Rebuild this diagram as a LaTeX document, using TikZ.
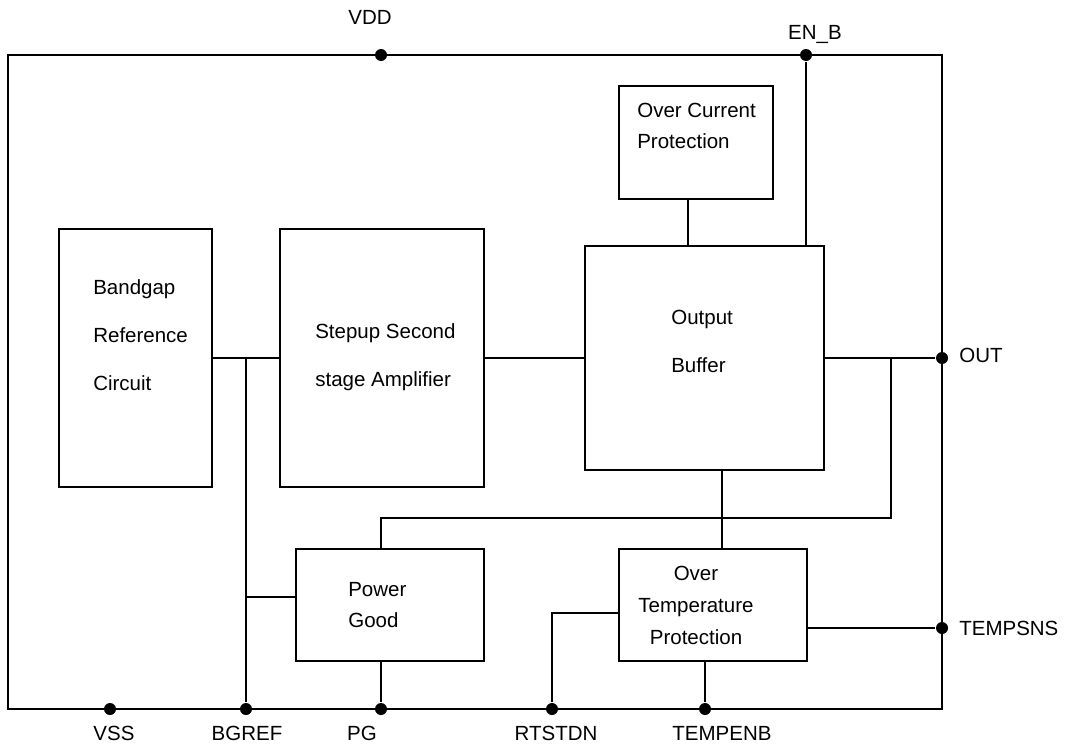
\documentclass[tikz,border=0pt]{standalone}
\usepackage{fontspec}
\setmainfont{Liberation Sans}
\begin{document}
\begin{tikzpicture}[x=1pt,y=-1pt,line width=2.6pt,
  blk/.style={draw, rectangle, inner sep=0pt, outer sep=0pt},
  txt/.style={font=\fontsize{20.5}{24}\selectfont, inner sep=0pt},
  pin/.style={circle, fill, inner sep=0pt, minimum size=12pt}]
\useasboundingbox (0,0) rectangle (1070,747);
% frame
\draw (8,55) rectangle (942,709);
% blocks
\node[blk, minimum width=153pt, minimum height=258pt] (bg)  at (135.5,358) {};
\node[blk, minimum width=204pt, minimum height=258pt] (st)  at (382,358) {};
\node[blk, minimum width=154pt, minimum height=113pt] (ocp) at (696,142.5) {};
\node[blk, minimum width=239pt, minimum height=224pt] (buf) at (704.5,358) {};
\node[blk, minimum width=188pt, minimum height=112pt] (pg)  at (390,605) {};
\node[blk, minimum width=188pt, minimum height=112pt] (otp) at (713,605) {};
% block texts
\node[txt, align=left, anchor=west, font=\fontsize{20.5}{48}\selectfont] (tbg) at (92,335) {Bandgap\\Reference\\Circuit};
\node[txt, align=left, anchor=west, font=\fontsize{20.5}{48}\selectfont] (tst) at (314,357) {Stepup Second\\stage Amplifier};
\node[txt, align=left, anchor=west, font=\fontsize{20.5}{31}\selectfont] (tocp) at (636,126) {Over Current\\Protection};
\node[txt, align=left, anchor=west, font=\fontsize{20.5}{48}\selectfont] (tbuf) at (670,341) {Output\\Buffer};
\node[txt, align=left, anchor=west, font=\fontsize{20.5}{31}\selectfont] (tpg) at (347,605) {Power\\Good};
\node[txt, align=center, font=\fontsize{20.5}{32}\selectfont] (totp) at (696,605) {Over\\Temperature\\Protection};
% pins
\node[pin] (vdd)  at (381,55) {};
\node[pin] (enb)  at (806,55) {};
\node[pin] (out)  at (942,358) {};
\node[pin] (tsns) at (942,628) {};
\node[pin] (vss)  at (110,709) {};
\node[pin] (bgr)  at (246,709) {};
\node[pin] (pgp)  at (381,709) {};
\node[pin] (rts)  at (552,709) {};
\node[pin] (tenb) at (705,709) {};
% connectors
\draw (enb) -- (enb |- buf.north);
\draw ([xshift=-8pt]ocp.south) -- ([xshift=-8pt]ocp.south |- buf.north);
\draw (bg.east) -- (st.west);
\draw (bgr) -- (bgr |- bg.east);
\draw ([yshift=8pt]pg.west) -- ([yshift=8pt]pg.west -| bgr);
\draw (st.east) -- (buf.west);
\draw (buf.east) -- (out);
\coordinate (tap) at (891,358);
\coordinate (pgbus) at (891,518);
\draw (tap) -- (pgbus) -| (pgp |- pg.north);
\draw (pgp) -- (pgp |- pg.south);
\draw ([xshift=17.5pt]buf.south) -- ([xshift=17.5pt]buf.south |- otp.north);
\draw (rts) |- ([yshift=-8pt]otp.west);
\draw (tenb) -- (tenb |- otp.south);
\draw ([yshift=-23pt]otp.east) -- (tsns);
% pin labels
\node[txt] (lvdd) at (370,17) {VDD};
\node[txt] (lenb) at (815,34) {EN\_B};
\node[txt, anchor=west] (lout) at (958,355) {OUT};
\node[txt, anchor=west] (ltsns) at (958,628) {TEMPSNS};
\node[txt] (lvss) at (114,733) {VSS};
\node[txt] (lbgr) at (247,733) {BGREF};
\node[txt] (lpg) at (362,733) {PG};
\node[txt] (lrts) at (556,733) {RTSTDN};
\node[txt] (ltenb) at (722,733) {TEMPENB};
\end{tikzpicture}
\end{document}
